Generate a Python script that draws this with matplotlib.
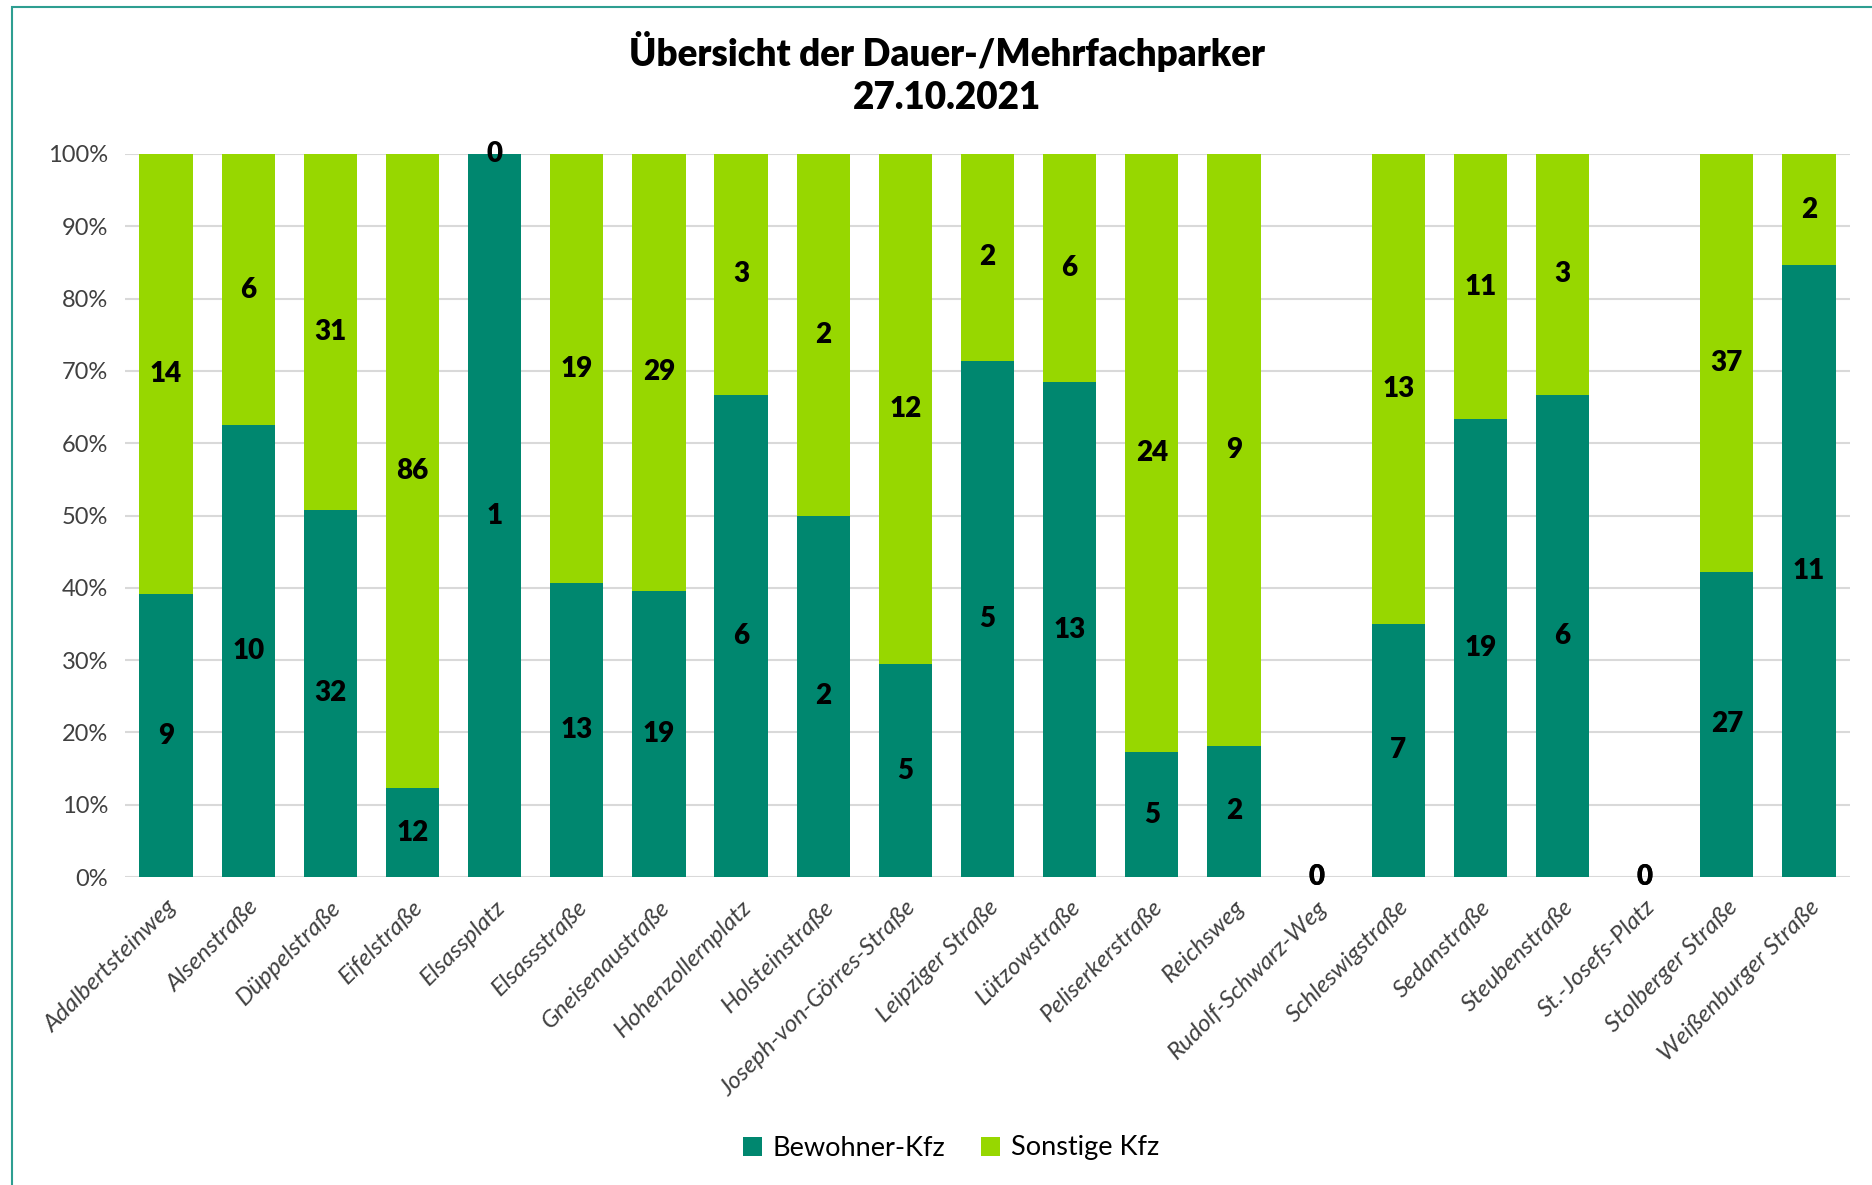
import numpy as np
import matplotlib
matplotlib.use("Agg")
import matplotlib.pyplot as plt
from matplotlib.patches import Rectangle

plt.rcParams['font.family'] = ['Lato', 'DejaVu Sans']

# data
streets = ["Adalbertsteinweg", "Alsenstraße", "Düppelstraße", "Eifelstraße", "Elsassplatz",
           "Elsassstraße", "Gneisenaustraße", "Hohenzollernplatz", "Holsteinstraße",
           "Joseph-von-Görres-Straße", "Leipziger Straße", "Lützowstraße", "Peliserkerstraße",
           "Reichsweg", "Rudolf-Schwarz-Weg", "Schleswigstraße", "Sedanstraße", "Steubenstraße",
           "St.-Josefs-Platz", "Stolberger Straße", "Weißenburger Straße"]
bewohner = [9, 10, 32, 12, 1, 13, 19, 6, 2, 5, 5, 13, 5, 2, 0, 7, 19, 6, 0, 27, 11]
sonstige = [14, 6, 31, 86, 0, 19, 29, 3, 2, 12, 2, 6, 24, 9, 0, 13, 11, 3, 0, 37, 2]

title = "Übersicht der Dauer-/Mehrfachparker\n27.10.2021"
col_bew = "#00876F"
col_son = "#97D700"

b = np.array(bewohner, dtype=float)
s = np.array(sonstige, dtype=float)
tot = b + s
safe = np.where(tot == 0, 1, tot)
pb = np.where(tot == 0, 0, b / safe)
ps = np.where(tot == 0, 0, s / safe)

fig = plt.figure(figsize=(18.72, 11.85), dpi=100)
ax = fig.add_axes([125 / 1872, 1 - 877 / 1185, (1850 - 125) / 1872, (877 - 154) / 1185])

x = np.arange(len(streets))
bars1 = ax.bar(x, pb, width=0.65, color=col_bew, zorder=3, label="Bewohner-Kfz")
bars2 = ax.bar(x, ps, width=0.65, bottom=pb, color=col_son, zorder=3, label="Sonstige Kfz")

lbl_kw = dict(label_type='center', fontsize=20, fontweight='heavy', color='black')
ax.bar_label(bars1, labels=[str(v) for v in bewohner], **lbl_kw)
ax.bar_label(bars2, labels=[str(v) for v in sonstige], **lbl_kw)

ax.set_xlim(-0.5, len(streets) - 0.5)
ax.set_ylim(0, 1)
ax.set_yticks(np.arange(0, 1.01, 0.1))
ax.set_yticklabels([f"{int(round(t * 100))}%" for t in np.arange(0, 1.01, 0.1)])
ax.yaxis.grid(True, color="#d9d9d9", linewidth=1.5, zorder=0)
ax.set_axisbelow(True)
for sp in ax.spines.values():
    sp.set_visible(False)
ax.tick_params(axis='both', length=0)
ax.tick_params(axis='y', labelsize=17, labelcolor="#404040", pad=12)

ax.set_xticks(x)
ax.set_xticklabels(streets, rotation=45, ha='right', rotation_mode='anchor',
                   fontsize=17.5, fontstyle='italic', color="#404040")
ax.tick_params(axis='x', pad=14)

fig.text(0.506, 1 - 73 / 1185, title, ha='center', va='center', fontsize=26.5,
         fontweight='heavy', linespacing=1.3)

fig.legend(loc='center', bbox_to_anchor=(0.508, 1 - 1148 / 1185), ncol=2, frameon=False,
           fontsize=19.5, handlelength=0.7, handleheight=0.7, handletextpad=0.4,
           columnspacing=1.3)

fig.patches.append(Rectangle((12 / 1872, -0.1), 1.2, 1 - 7 / 1185 + 0.1,
                             transform=fig.transFigure, fill=False,
                             edgecolor="#2E9E91", linewidth=1.5))

fig.savefig("out.png", dpi=100)
